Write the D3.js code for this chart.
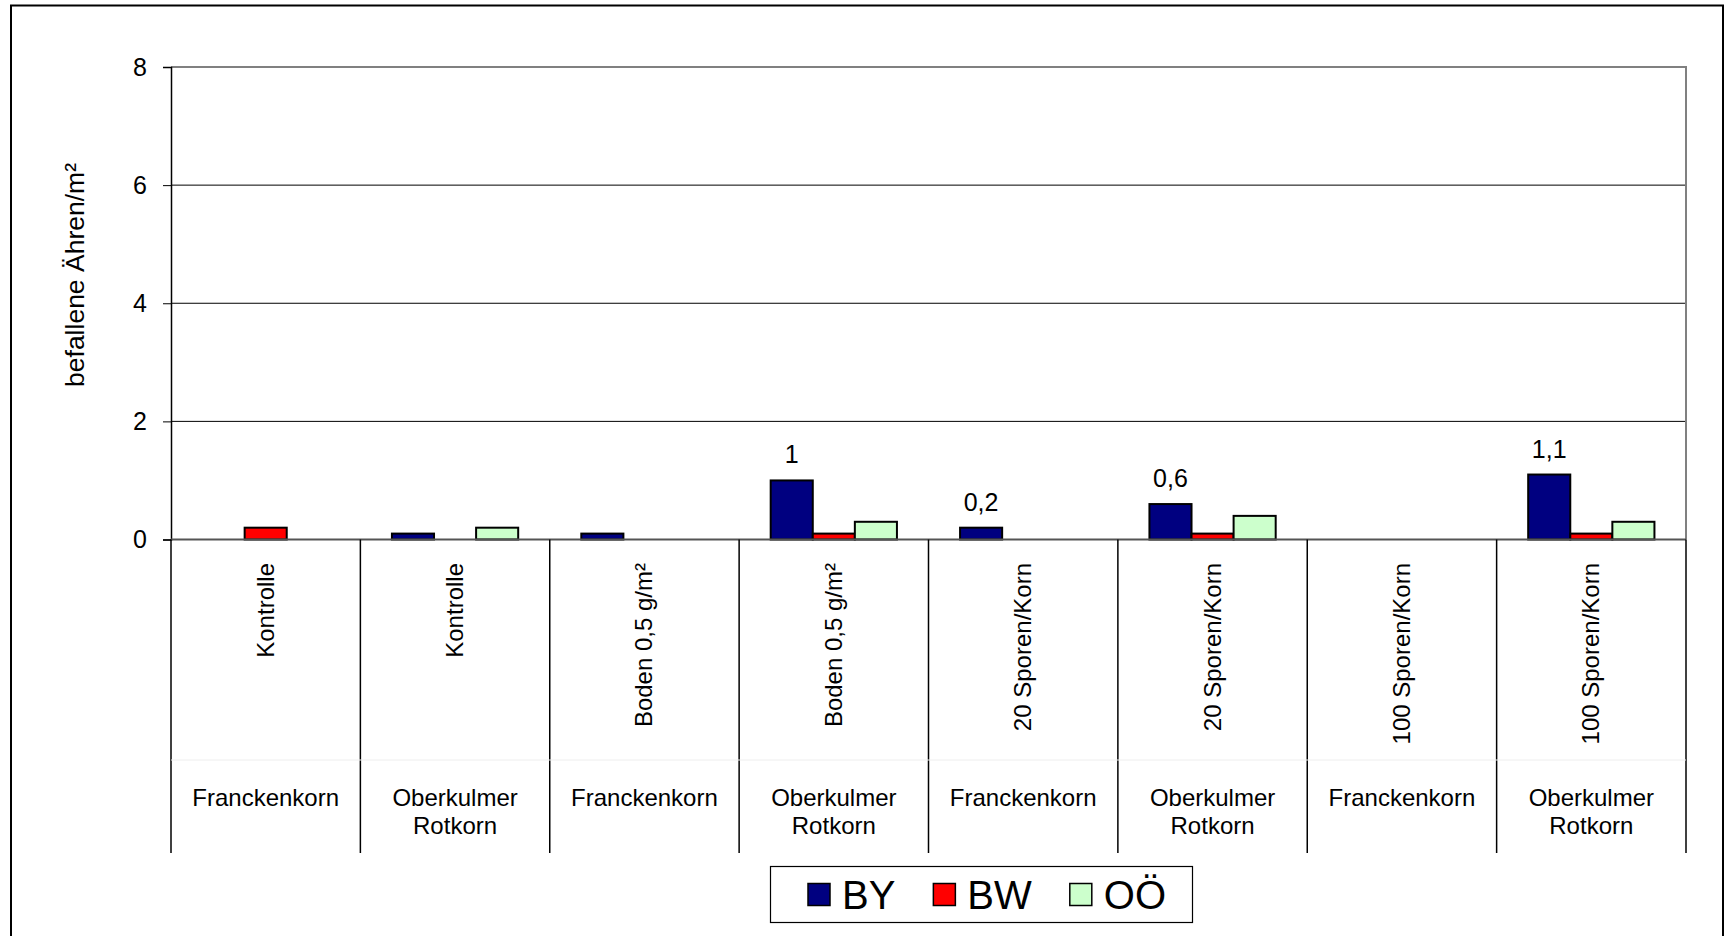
<!DOCTYPE html>
<html>
<head>
<meta charset="utf-8">
<script src="https://cdn.jsdelivr.net/npm/d3@7"></script>
<style>
  body { margin: 0; background: #fff; }
  svg { display: block; font-family: "Liberation Sans", Arial, sans-serif; }
</style>
</head>
<body>
<div id="graph"></div>
<script>
// Daten
const treatments = ["Kontrolle", "Kontrolle", "Boden 0,5 g/m²", "Boden 0,5 g/m²",
  "20 Sporen/Korn", "20 Sporen/Korn", "100 Sporen/Korn", "100 Sporen/Korn"]
const varieties = [["Franckenkorn"], ["Oberkulmer", "Rotkorn"], ["Franckenkorn"], ["Oberkulmer", "Rotkorn"],
  ["Franckenkorn"], ["Oberkulmer", "Rotkorn"], ["Franckenkorn"], ["Oberkulmer", "Rotkorn"]]
const series = ["BY", "BW", "OÖ"]
const colours = ["#000080", "#FF0000", "#CCFFCC"]
const valuesBY = [0, 0.1, 0.1, 1, 0.2, 0.6, 0, 1.1]
const valuesBW = [0.2, 0, 0, 0.1, 0, 0.1, 0, 0.1]
const valuesOO = [0, 0.2, 0, 0.3, 0, 0.4, 0, 0.3]
const labelsBY = ["", "", "", "1", "0,2", "0,6", "", "1,1"]
const yTicks = [0, 2, 4, 6, 8]

const dimensions = { width: 1725, height: 936 }
const margin = { left: 171, right: 39, top: 67, bottom: 396.5 }

const svg = d3.select("#graph")
  .append("svg")
    .attr("width", dimensions.width)
    .attr("height", dimensions.height)

// Rahmen
svg.append("rect")
  .attr("x", 11).attr("y", 5.5)
  .attr("width", 1712).attr("height", 1000)
  .attr("fill", "none").attr("stroke", "#000").attr("stroke-width", 2)

const cats = d3.range(treatments.length)
const x = d3.scaleBand()
  .domain(cats)
  .range([margin.left, dimensions.width - margin.right])
const barW = x.bandwidth() / 4.5
const xSub = d3.scaleBand()
  .domain(series)
  .range([0.75 * barW, 3.75 * barW])
const y = d3.scaleLinear()
  .domain([0, 8])
  .range([dimensions.height - margin.bottom, margin.top])

const x0 = margin.left, x1 = dimensions.width - margin.right
const yZero = y(0)

// Gitterlinien
svg.append("g")
  .selectAll("line")
  .data(yTicks.filter(d => d > 0 && d < 8))
  .join("line")
    .attr("x1", x0).attr("x2", x1)
    .attr("y1", d => y(d)).attr("y2", d => y(d))
    .attr("stroke", "#000").attr("stroke-width", 1)

// Plotrahmen oben/rechts
svg.append("path")
  .attr("d", `M${x0},${y(8)}H${x1}V${yZero}`)
  .attr("fill", "none").attr("stroke", "#808080").attr("stroke-width", 2)

// y-Achse
const yAxis = svg.append("g")
  .attr("transform", `translate(${x0},0)`)
  .call(d3.axisLeft(y).tickValues(yTicks).tickSize(8).tickPadding(16).tickFormat(d3.format("d")))
yAxis.select(".domain").attr("stroke", "#000").attr("stroke-width", 1.5)
yAxis.selectAll(".tick line").attr("stroke", "#000")
yAxis.selectAll("text")
  .attr("font-size", 25).attr("fill", "#000")
  .attr("font-family", "Liberation Sans, Arial, sans-serif")

svg.append("text")
  .attr("transform", `translate(84,275) rotate(-90)`)
  .attr("text-anchor", "middle")
  .attr("font-size", 26.5)
  .text("befallene Ähren/m²")

// Balken
const data = cats.map(i => ({ i, vals: [valuesBY[i], valuesBW[i], valuesOO[i]] }))
const groups = svg.append("g")
  .selectAll("g")
  .data(data)
  .join("g")
    .attr("transform", d => `translate(${x(d.i)},0)`)

groups.selectAll("rect")
  .data(d => d.vals.map((v, k) => ({ v, s: series[k], c: colours[k] })).filter(e => e.v > 0))
  .join("rect")
    .attr("x", e => xSub(e.s))
    .attr("width", xSub.bandwidth())
    .attr("y", e => y(e.v))
    .attr("height", e => yZero - y(e.v))
    .attr("fill", e => e.c)
    .attr("stroke", "#000")
    .attr("stroke-width", 2)

// Datenbeschriftung BY
svg.append("g")
  .selectAll("text")
  .data(cats.filter(i => labelsBY[i] !== ""))
  .join("text")
    .attr("x", i => x(i) + xSub("BY") + xSub.bandwidth() / 2)
    .attr("y", i => y(valuesBY[i]) - 17)
    .attr("text-anchor", "middle")
    .attr("font-size", 25)
    .text(i => labelsBY[i])

// x-Achse (mehrstufig)
svg.append("line")
  .attr("x1", x0).attr("x2", x1)
  .attr("y1", yZero).attr("y2", yZero)
  .attr("stroke", "#555").attr("stroke-width", 2)

const axisBottom = 853
svg.append("g")
  .selectAll("line")
  .data(cats.concat([cats.length]))
  .join("line")
    .attr("x1", i => i < cats.length ? x(i) : x1)
    .attr("x2", i => i < cats.length ? x(i) : x1)
    .attr("y1", yZero).attr("y2", axisBottom)
    .attr("stroke", "#000").attr("stroke-width", 1.5)

svg.append("line")
  .attr("x1", x0).attr("x2", x1)
  .attr("y1", 760).attr("y2", 760)
  .attr("stroke", "#eee").attr("stroke-width", 1)

svg.append("g")
  .selectAll("text")
  .data(cats)
  .join("text")
    .attr("transform", i => `translate(${x(i) + x.bandwidth() / 2 + 8},563) rotate(-90)`)
    .attr("text-anchor", "end")
    .attr("font-size", 24)
    .text(i => treatments[i])

svg.append("g")
  .selectAll("text")
  .data(cats)
  .join("text")
    .attr("x", i => x(i) + x.bandwidth() / 2)
    .attr("y", 806)
    .attr("text-anchor", "middle")
    .attr("font-size", 24)
    .selectAll("tspan")
    .data(i => varieties[i].map(t => ({ t, cx: x(i) + x.bandwidth() / 2 })))
    .join("tspan")
      .attr("x", d => d.cx)
      .attr("dy", (d, k) => k === 0 ? 0 : 27.5)
      .text(d => d.t)

// Legende
const legend = svg.append("g")
svg.append("rect")
  .attr("x", 770.5).attr("y", 866.5)
  .attr("width", 422).attr("height", 56)
  .attr("fill", "#fff").attr("stroke", "#000").attr("stroke-width", 1.2)
  .lower()
let lx = 808
series.forEach((s, k) => {
  legend.append("rect")
    .attr("x", lx).attr("y", 883.5)
    .attr("width", 22).attr("height", 22)
    .attr("fill", colours[k]).attr("stroke", "#000").attr("stroke-width", 1.5)
  const t = legend.append("text")
    .attr("x", lx + 34).attr("y", 909)
    .attr("font-size", 40)
    .text(s)
  lx = lx + 34 + t.node().getComputedTextLength() + 38
})
</script>
</body>
</html>
